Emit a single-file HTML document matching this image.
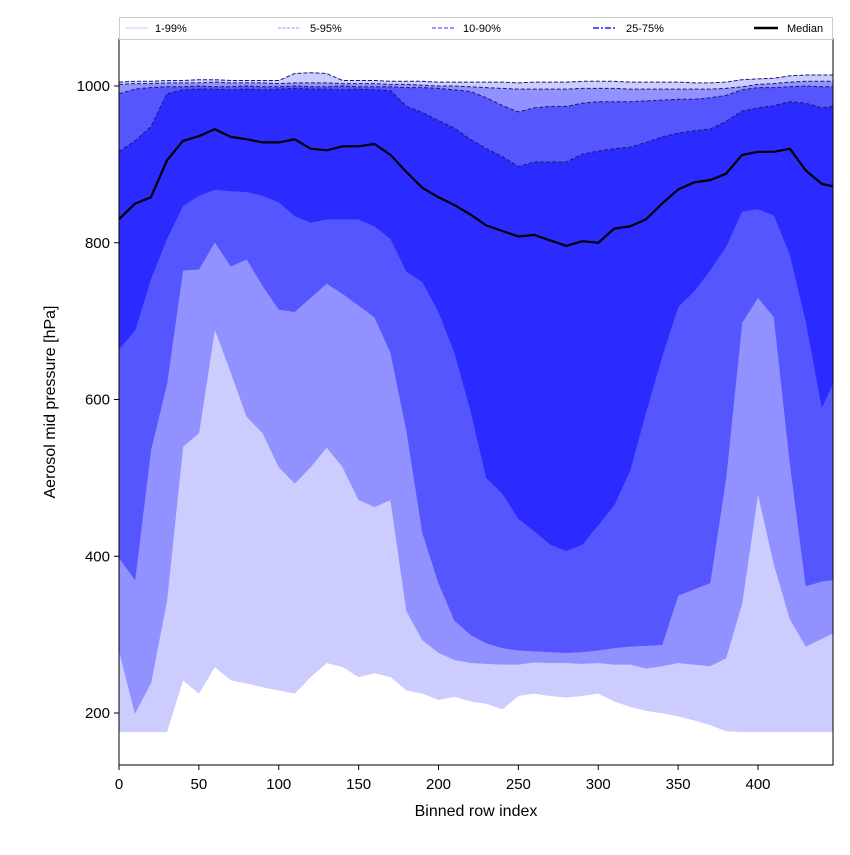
<!DOCTYPE html>
<html><head><meta charset="utf-8"><style>
body{margin:0;background:#fff;}
svg text{font-family:"Liberation Sans",sans-serif;}
</style></head><body>
<svg id="chart" width="850" height="850" xmlns="http://www.w3.org/2000/svg">
<defs><clipPath id="clip"><rect x="119" y="39" width="714" height="726"/></clipPath></defs>
<g id="bands" clip-path="url(#clip)"></g>
<g id="lines" clip-path="url(#clip)"></g>
<rect x="119" y="39" width="714" height="726" fill="none" stroke="#000" stroke-width="1"/>
<g id="axes"></g>
<text x="476" y="816" font-size="16" text-anchor="middle">Binned row index</text>
<text transform="translate(55,402) rotate(-90)" font-size="16" text-anchor="middle">Aerosol mid pressure [hPa]</text>
<g>
<rect x="119.5" y="17.5" width="713" height="22" fill="#fff" stroke="#ccc"/>
<g><line x1="125" y1="28" x2="148" y2="28" stroke="#ccccff" stroke-width="1"/><text x="155" y="32" font-size="11">1-99%</text></g>
<g><line x1="278" y1="28" x2="301" y2="28" stroke="#9999ff" stroke-width="1" stroke-dasharray="3,1.5"/><text x="310" y="32" font-size="11">5-95%</text></g>
<g><line x1="432" y1="28" x2="455" y2="28" stroke="#7777ff" stroke-width="1.5" stroke-dasharray="4,2"/><text x="463" y="32" font-size="11">10-90%</text></g>
<g><line x1="593" y1="28" x2="616" y2="28" stroke="#5555ff" stroke-width="2" stroke-dasharray="6,2,2,2"/><text x="626" y="32" font-size="11">25-75%</text></g>
<g><line x1="754" y1="28" x2="778" y2="28" stroke="#000" stroke-width="2.5"/><text x="787" y="32" font-size="11">Median</text></g>
</g>
</svg>
<script>
const xIdx=[0,10,20,30,40,50,60,70,80,90,100,110,120,130,140,150,160,170,180,190,200,210,220,230,240,250,260,270,280,290,300,310,320,330,340,350,360,370,380,390,400,410,420,430,440,447];
const p1=[176,176,176,176,242,225,259,242,238,233,229,225,246,264,259,246,251,246,229,225,217,221,215,212,205,222,225,222,220,222,225,215,208,203,200,196,191,185,177,176,176,176,176,176,176,176];
const p5=[280,200,238,344,540,557,690,635,578,557,514,493,514,539,514,472,463,472,330,293,277,268,264,263,262,262,265,264,264,263,264,262,262,257,260,264,262,260,270,340,480,390,320,285,295,302];
const p10=[398,370,536,620,765,766,801,770,779,745,715,712,730,748,735,720,705,660,560,430,366,318,300,289,283,280,279,278,277,278,280,283,285,286,287,350,358,366,500,698,730,705,520,362,368,370];
const p25=[664,688,754,805,847,860,868,866,865,860,852,834,826,830,830,830,821,805,763,750,712,660,587,500,480,448,432,415,407,415,440,465,510,585,655,718,738,765,795,840,843,835,785,700,590,621];
const p50=[830,850,858,905,930,936,945,935,932,928,928,932,920,918,923,923,926,912,890,870,858,848,836,822,815,808,810,803,796,802,800,818,821,830,850,868,877,880,888,912,916,916,920,892,875,872];
const p75=[916,930,948,990,995,996,996,995,996,995,996,997,996,996,995,996,995,994,974,966,956,946,932,920,910,897,903,903,903,913,917,920,922,928,935,940,943,945,955,968,972,975,980,978,972,974];
const p90=[990,996,998,999,999,1000,999,999,1000,999,999,1000,999,999,1000,999,999,999,998,998,997,995,993,985,975,967,972,974,974,978,980,980,980,981,982,983,983,985,988,995,998,998,999,1000,999,999];
const p95=[1002,1003,1003,1004,1004,1004,1005,1004,1004,1004,1003,1004,1004,1004,1003,1003,1003,1002,1002,1001,1000,1000,999,998,997,996,996,996,996,997,997,997,996,996,996,996,996,996,997,999,1002,1003,1005,1006,1006,1006];
const p99=[1005,1006,1006,1007,1007,1008,1008,1007,1007,1007,1007,1016,1017,1016,1007,1007,1007,1006,1006,1006,1005,1005,1005,1005,1005,1004,1005,1005,1005,1006,1006,1006,1005,1005,1005,1005,1004,1004,1005,1008,1009,1010,1013,1014,1014,1014];
const xTicks=[0,50,100,150,200,250,300,350,400];
const yTicks=[200,400,600,800,1000];

const NS="http://www.w3.org/2000/svg";
function sx(v){return 119+v*(639/400);}
function sy(v){return 86+(1000-v)*0.78375;}
function mk(tag,attrs,parent){const e=document.createElementNS(NS,tag);for(const k in attrs)e.setAttribute(k,attrs[k]);parent.appendChild(e);return e;}
const bands=document.getElementById('bands'),lines=document.getElementById('lines'),axes=document.getElementById('axes');
function bandPath(lo,hi){
  let d='M'+xIdx.map((x,i)=>sx(x).toFixed(1)+','+sy(hi[i]).toFixed(1)).join('L');
  for(let i=xIdx.length-1;i>=0;i--)d+='L'+sx(xIdx[i]).toFixed(1)+','+sy(lo[i]).toFixed(1);
  return d+'Z';
}
const bandDefs=[[p1,p5,'#ccccff','band-1-5'],[p5,p10,'#9191ff','band-5-10'],[p10,p25,'#5656ff','band-10-25'],[p25,p75,'#2b2bff','band-25-75'],[p75,p90,'#5656ff','band-75-90'],[p90,p95,'#9191ff','band-90-95'],[p95,p99,'#ccccff','band-95-99']];
bandDefs.forEach(b=>{
  const p=mk('path',{d:bandPath(b[0],b[1]),fill:b[2],stroke:b[2],'stroke-width':0.5},bands);
  
  
});
function linePath(arr){return 'M'+xIdx.map((x,i)=>sx(x).toFixed(1)+','+sy(arr[i]).toFixed(1)).join('L');}
[[p75,'p75-line'],[p90,'p90-line'],[p95,'p95-line'],[p99,'p99-line']].forEach(l=>{
  const p=mk('path',{d:linePath(l[0]),fill:'none',stroke:'#1a1a70','stroke-width':1,'stroke-dasharray':'4,2'},lines);
  
  
});
const med=mk('path',{d:linePath(p50),fill:'none',stroke:'#000','stroke-width':2.2,'stroke-linejoin':'round'},lines);


xTicks.forEach(t=>{
  const x=sx(t);
  const l=mk('line',{x1:x,y1:765,x2:x,y2:770,stroke:'#000'},axes);
  
  
  const tx=mk('text',{x:x,y:789,'font-size':15,'text-anchor':'middle'},axes);
  tx.textContent=t;
  
  
});
yTicks.forEach(t=>{
  const y=sy(t);
  const l=mk('line',{x1:114,y1:y,x2:119,y2:y,stroke:'#000'},axes);
  
  
  const tx=mk('text',{x:110,y:y+5,'font-size':15,'text-anchor':'end'},axes);
  tx.textContent=t;
  
  
});
</script>
</body></html>
